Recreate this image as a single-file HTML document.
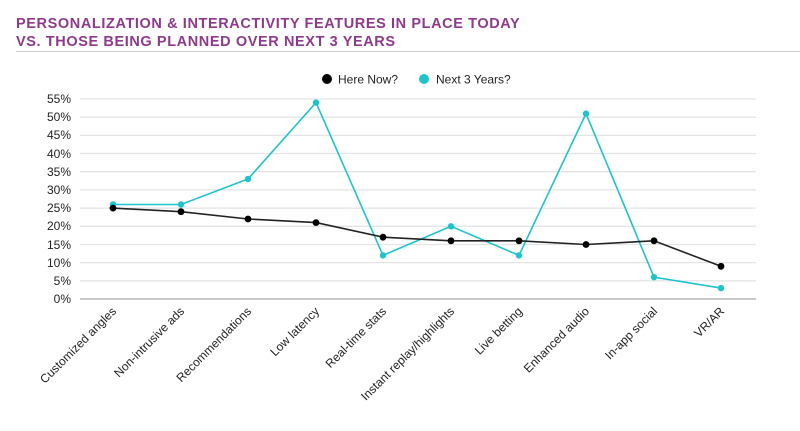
<!DOCTYPE html>
<html><head><style>body{margin:0;background:#fff}</style></head><body>
<svg width="800" height="426" xmlns="http://www.w3.org/2000/svg" font-family="Liberation Sans, sans-serif">
<text x="16" y="28" font-size="14.5" font-weight="bold" fill="#8e3a8c" letter-spacing="0.6">PERSONALIZATION &amp; INTERACTIVITY FEATURES IN PLACE TODAY</text>
<text x="16" y="46" font-size="14.5" font-weight="bold" fill="#8e3a8c" letter-spacing="0.6">VS. THOSE BEING PLANNED OVER NEXT 3 YEARS</text>
<line x1="16" y1="51.5" x2="800" y2="51.5" stroke="#ccc" stroke-width="1"/>
<circle cx="327" cy="79" r="5" fill="#000"/>
<text x="338" y="83.5" font-size="12" fill="#222">Here Now?</text>
<circle cx="424" cy="79" r="5" fill="#1fc3cc"/>
<text x="436" y="83.5" font-size="12" fill="#222">Next 3 Years?</text>
<g stroke="#e4e4e4" stroke-width="1.3">
<line x1="80" x2="756" y1="99" y2="99"/><line x1="80" x2="756" y1="117.2" y2="117.2"/><line x1="80" x2="756" y1="135.4" y2="135.4"/><line x1="80" x2="756" y1="153.5" y2="153.5"/><line x1="80" x2="756" y1="171.7" y2="171.7"/><line x1="80" x2="756" y1="189.9" y2="189.9"/><line x1="80" x2="756" y1="208.1" y2="208.1"/><line x1="80" x2="756" y1="226.3" y2="226.3"/><line x1="80" x2="756" y1="244.5" y2="244.5"/><line x1="80" x2="756" y1="262.6" y2="262.6"/><line x1="80" x2="756" y1="280.8" y2="280.8"/>
</g>
<line x1="80" x2="756" y1="299" y2="299" stroke="#aaa" stroke-width="1.3"/>
<g font-size="12" fill="#222" text-anchor="end">
<text x="71" y="103">55%</text><text x="71" y="121">50%</text><text x="71" y="139">45%</text><text x="71" y="158">40%</text><text x="71" y="176">35%</text><text x="71" y="194">30%</text><text x="71" y="212">25%</text><text x="71" y="230">20%</text><text x="71" y="249">15%</text><text x="71" y="267">10%</text><text x="71" y="285">5%</text><text x="71" y="303">0%</text>
</g>
<polyline fill="none" stroke="#1fc3cc" stroke-width="1.6" points="113,204.5 181,204.5 248,179 316,102.6 383,255.4 451,226.3 519,255.4 586,113.6 654,277.2 721,288.1"/>
<g fill="#1fc3cc"><circle cx="113" cy="204.5" r="3.2"/><circle cx="181" cy="204.5" r="3.2"/><circle cx="248" cy="179" r="3.2"/><circle cx="316" cy="102.6" r="3.2"/><circle cx="383" cy="255.4" r="3.2"/><circle cx="451" cy="226.3" r="3.2"/><circle cx="519" cy="255.4" r="3.2"/><circle cx="586" cy="113.6" r="3.2"/><circle cx="654" cy="277.2" r="3.2"/><circle cx="721" cy="288.1" r="3.2"/></g>
<polyline fill="none" stroke="#222" stroke-width="1.6" points="113,208.1 181,211.7 248,219 316,222.6 383,237.2 451,240.8 519,240.8 586,244.5 654,240.8 721,266.3"/>
<g fill="#000"><circle cx="113" cy="208.1" r="3.4"/><circle cx="181" cy="211.7" r="3.4"/><circle cx="248" cy="219" r="3.4"/><circle cx="316" cy="222.6" r="3.4"/><circle cx="383" cy="237.2" r="3.4"/><circle cx="451" cy="240.8" r="3.4"/><circle cx="519" cy="240.8" r="3.4"/><circle cx="586" cy="244.5" r="3.4"/><circle cx="654" cy="240.8" r="3.4"/><circle cx="721" cy="266.3" r="3.4"/></g>
<g font-size="12" fill="#222" text-anchor="end">
<text transform="translate(117,312) rotate(-45)">Customized angles</text>
<text transform="translate(185,312) rotate(-45)">Non-intrusive ads</text>
<text transform="translate(252,312) rotate(-45)">Recommendations</text>
<text transform="translate(320,312) rotate(-45)">Low latency</text>
<text transform="translate(387,312) rotate(-45)">Real-time stats</text>
<text transform="translate(455,312) rotate(-45)">Instant replay/highlights</text>
<text transform="translate(523,312) rotate(-45)">Live betting</text>
<text transform="translate(590,312) rotate(-45)">Enhanced audio</text>
<text transform="translate(658,312) rotate(-45)">In-app social</text>
<text transform="translate(725,312) rotate(-45)">VR/AR</text>
</g>
</svg>
</body></html>
